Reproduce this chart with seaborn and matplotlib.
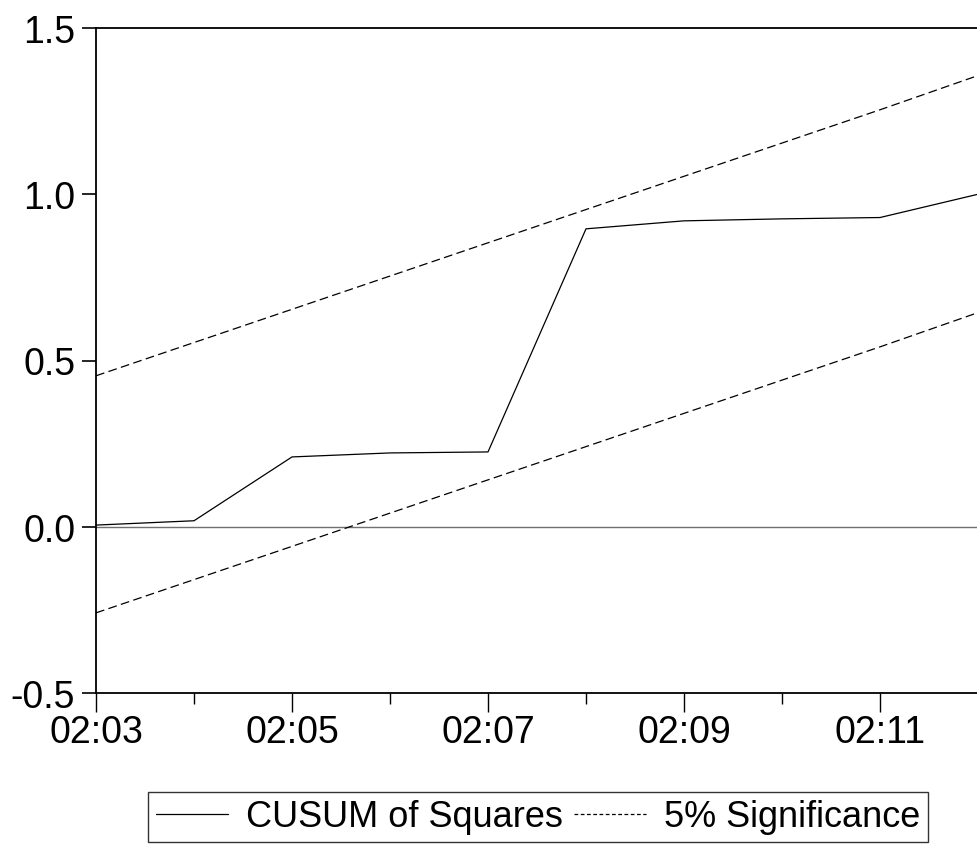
import matplotlib
matplotlib.use("Agg")
import matplotlib.pyplot as plt
import seaborn as sns
import pandas as pd
from matplotlib.lines import Line2D

times = ["02:03", "02:04", "02:05", "02:06", "02:07", "02:08", "02:09", "02:10", "02:11", "02:12"]
cusum_sq = [0.005, 0.018, 0.210, 0.222, 0.225, 0.896, 0.920, 0.926, 0.930, 1.000]
upper_5 = [0.454, 0.554, 0.654, 0.754, 0.854, 0.954, 1.054, 1.154, 1.254, 1.357]
lower_5 = [-0.259, -0.159, -0.059, 0.041, 0.141, 0.241, 0.341, 0.441, 0.541, 0.644]
y_ticks = [-0.5, 0.0, 0.5, 1.0, 1.5]

sns.set_style("white")
plt.rcParams["font.family"] = ["Liberation Sans", "DejaVu Sans"]
plt.rcParams["text.color"] = "black"
plt.rcParams["xtick.color"] = "black"
plt.rcParams["ytick.color"] = "black"

df = pd.DataFrame({"t": range(len(times)), "cusum": cusum_sq,
                   "upper": upper_5, "lower": lower_5})

fig = plt.figure(figsize=(9.78, 8.45), dpi=100)
ax = fig.add_axes([96/978, 151/845, 1 - 96/978, (694-29)/845])

ax.axhline(0, color="#707070", lw=1.0, zorder=1)
sns.lineplot(data=df, x="t", y="cusum", ax=ax, color="black", lw=0.9, zorder=3)
sns.lineplot(data=df, x="t", y="upper", ax=ax, color="black", lw=0.9, zorder=2)
sns.lineplot(data=df, x="t", y="lower", ax=ax, color="black", lw=0.9, zorder=2)
for ln in ax.lines[2:]:
    ln.set_dashes((7, 3.5))

ax.set_xlim(0, len(times) - 1)
ax.set_ylim(-0.5, 1.5)
ax.set_yticks(y_ticks)
ax.set_yticklabels([f"{v:.1f}" for v in y_ticks])
major = list(range(0, len(times), 2))
minor = list(range(1, len(times), 2))
ax.set_xticks(major)
ax.set_xticklabels([times[i] for i in major])
ax.set_xticks(minor, minor=True)
ax.set_xlabel("")
ax.set_ylabel("")

ax.tick_params(axis="y", which="major", direction="out", length=10, width=1.2,
               labelsize=27, pad=5, left=True, color="black", labelcolor="black")
ax.tick_params(axis="x", which="major", direction="out", length=14, width=1.0,
               labelsize=27, pad=1, bottom=True, color="black", labelcolor="black")
ax.tick_params(axis="x", which="minor", direction="out", length=8, width=1.0,
               bottom=True, color="black")

for side in ["left", "bottom", "top"]:
    ax.spines[side].set_visible(True)
    ax.spines[side].set_color("black")
    ax.spines[side].set_linewidth(1.3)
ax.spines["right"].set_visible(False)

handles = [Line2D([0], [0], color="black", lw=0.9),
           Line2D([0], [0], color="black", lw=0.9, dashes=(3, 2))]
leg = fig.legend(handles, ["CUSUM of Squares", "5% Significance"],
                 loc="center", bbox_to_anchor=(538/978, 27/845), ncol=2,
                 fontsize=26, frameon=True, fancybox=False, edgecolor="black",
                 handlelength=2.0, handletextpad=0.5, columnspacing=0.3,
                 borderpad=0.22, borderaxespad=0)
leg.get_frame().set_linewidth(1.0)
for t in leg.get_texts():
    t.set_color("black")

fig.savefig("out.png", dpi=100)
